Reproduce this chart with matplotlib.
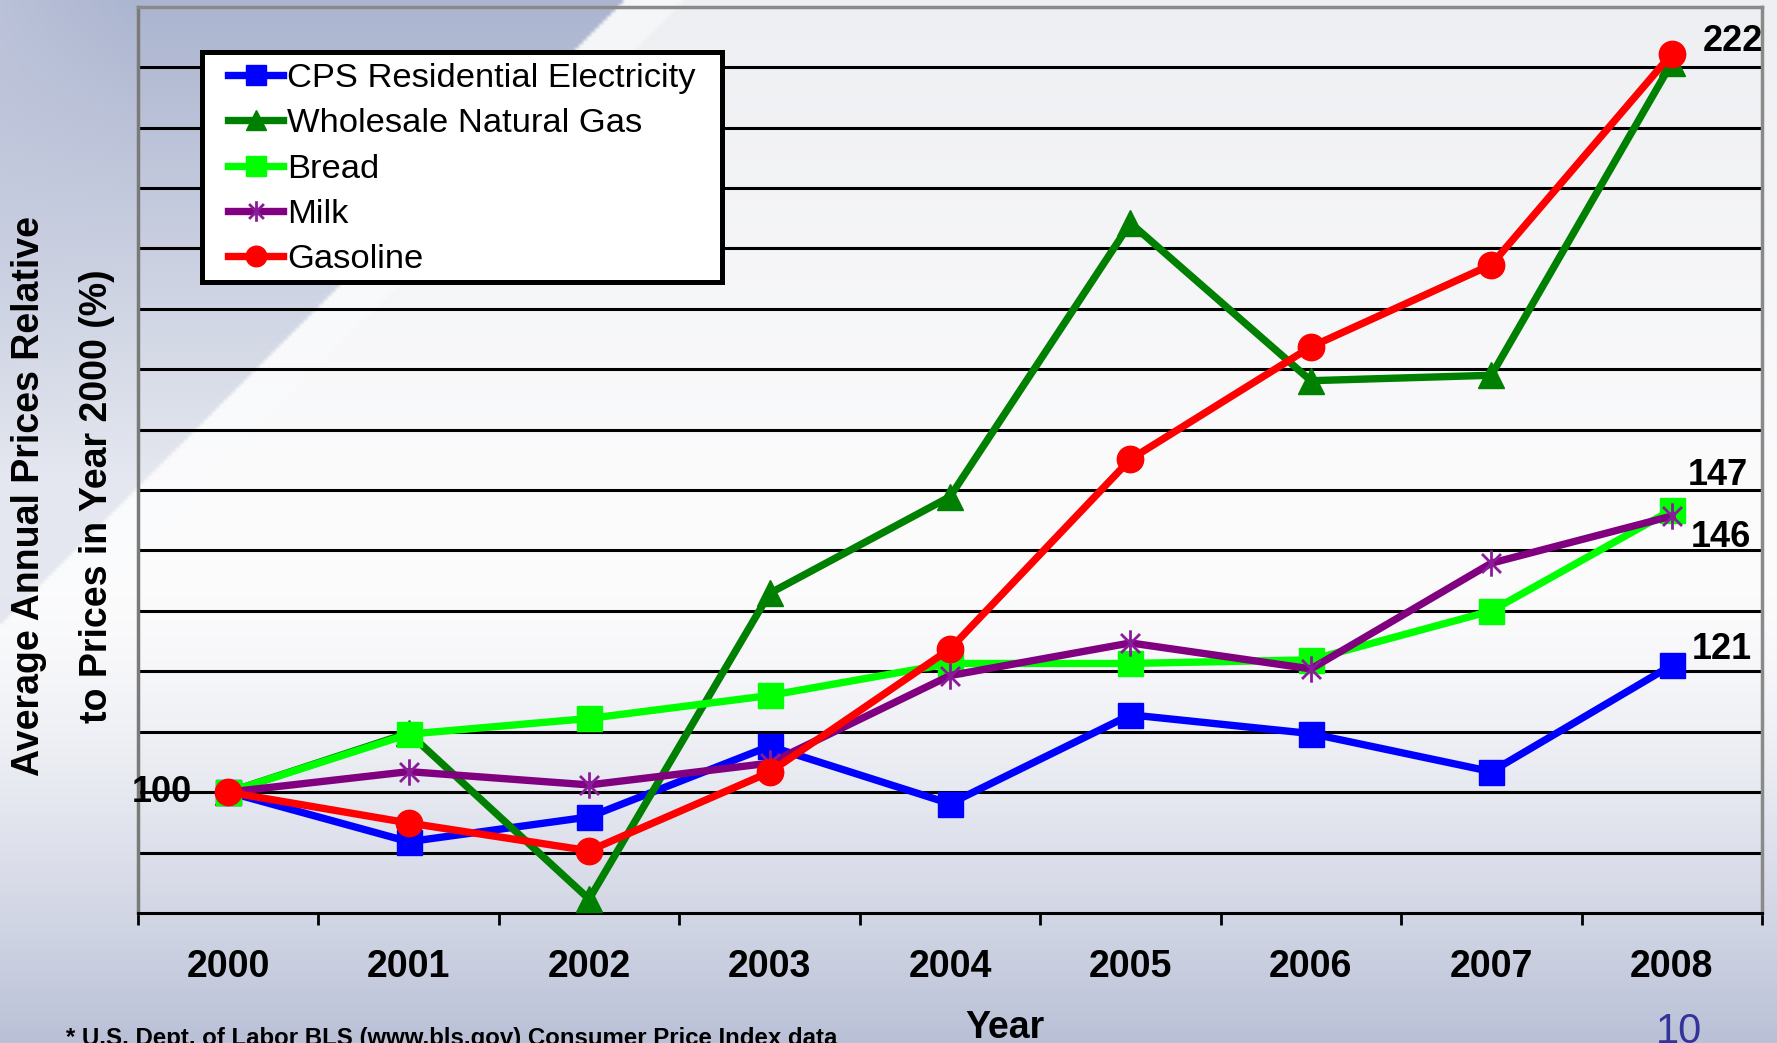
import numpy as np
import matplotlib
matplotlib.use("Agg")
import matplotlib.pyplot as plt
from matplotlib.path import Path
from matplotlib.patches import Rectangle
from matplotlib.lines import Line2D

# ---------------- data ----------------
years = ["2000", "2001", "2002", "2003", "2004", "2005", "2006", "2007", "2008"]
electricity = [100, 91.8, 95.9, 107.6, 98.1, 112.8, 109.7, 103.4, 121.0]
natural_gas = [100, 109.8, 82.3, 132.9, 148.9, 194.2, 168.1, 169.0, 220.7]
bread = [100, 109.6, 112.2, 116.0, 121.3, 121.3, 121.9, 130.0, 146.7]
milk = [100, 103.4, 101.2, 104.8, 119.3, 124.7, 120.4, 137.9, 145.7]
gasoline = [100, 94.9, 90.3, 103.3, 123.7, 155.1, 173.7, 187.3, 222.2]
series_names = ["CPS Residential Electricity", "Wholesale Natural Gas", "Bread", "Milk", "Gasoline"]
grid_values = [90, 100, 110, 120, 130, 140, 150, 160, 170, 180, 190, 200, 210, 220]

W_PX, H_PX = 1777, 1043
fig = plt.figure(figsize=(W_PX / 100, H_PX / 100), dpi=100)

# ---------------- slide background ----------------
H, W = 261, 445
X, Y = np.meshgrid(np.linspace(0, W_PX, W), np.linspace(0, H_PX, H))
img = np.zeros((H, W, 3))
img[:] = np.array([251, 251, 252])
t = np.clip(1 - Y / 480, 0, 1)[..., None]
img = img * (1 - t) + np.array([238, 239, 242]) * t
d = X + Y - 622
s = np.clip(Y / 470, 0, 1)[..., None]
tri = np.array([172, 181, 208]) * (1 - s) + np.array([228, 231, 239]) * s
lx = (np.clip((140 - X) / 140, 0, 1) * 0.5)[..., None] * (1 - s)
tri = tri * (1 - lx) + np.array([200, 206, 225]) * lx
mask = (d < 0)[..., None]
img = np.where(mask, tri, img)
band = ((d >= 0) & (d < 60))[..., None]
img = np.where(band, img * 0.4 + np.array([250, 251, 253]) * 0.6, img)
b = (np.clip((Y - 600) / 443, 0, 1) ** 1.4)[..., None]
img = img * (1 - b) + np.array([186, 193, 215]) * b
bg = fig.add_axes([0, 0, 1, 1], zorder=-5)
bg.imshow(img.astype(np.uint8), extent=[0, 1, 0, 1], aspect="auto", interpolation="bilinear")
bg.axis("off")

# ---------------- main axes ----------------
ax = fig.add_axes([138 / W_PX, 1 - 913 / H_PX, 1624 / W_PX, 906.3 / H_PX])
ax.patch.set_alpha(0)
x = np.arange(len(years))
ax.set_xlim(-0.5, len(years) - 0.5)
ax.set_ylim(80, 230)

for gv in grid_values:
    ax.axhline(gv, color="black", lw=2.2, zorder=1)

star = Path([(0, -1), (0, 1), (-0.72, -0.72), (0.72, 0.72), (-0.72, 0.72), (0.72, -0.72)],
            [Path.MOVETO, Path.LINETO] * 3)

styles = [
    dict(color="#0000ff", marker="s", ms=18, mfc="#0000ff", mec="#0000ff"),
    dict(color="#008000", marker="^", ms=19, mfc="#008000", mec="#008000"),
    dict(color="#00ff00", marker="s", ms=18, mfc="#00ff00", mec="#00ff00"),
    dict(color="#800080", marker=star, ms=19, mfc="none", mec="#8a1a9a", mew=2.0),
    dict(color="#ff0000", marker="o", ms=19, mfc="#ff0000", mec="#ff0000"),
]
all_series = [electricity, natural_gas, bread, milk, gasoline]
for i, (vals, st) in enumerate(zip(all_series, styles)):
    ax.plot(x, vals, lw=5.3, zorder=3 + i, solid_joinstyle="round", **st)

# spines and ticks
for side in ["top", "right", "left"]:
    ax.spines[side].set_color("#8a8a8a")
    ax.spines[side].set_linewidth(2.5)
ax.spines["left"].set_color("#7a7a7a")
ax.spines["bottom"].set_color("black")
ax.spines["bottom"].set_linewidth(2.2)
ax.set_yticks([])
ax.set_xticks(np.arange(-0.5, len(years), 1.0))
ax.set_xticklabels([])
ax.tick_params(axis="x", which="major", direction="out", length=8.5, width=2, color="black")
ax.set_xticks(x, minor=True)
ax.set_xticklabels(years, minor=True,
                   fontdict=dict(family=["Liberation Sans", "DejaVu Sans"], weight="bold", size=27))
ax.tick_params(axis="x", which="minor", length=0, pad=26)

ax.set_xlabel("Year", family=["Liberation Sans", "DejaVu Sans"], weight="bold", size=27)
ax.xaxis.set_label_coords(0.534, -0.107)

# y label (two lines)
ylab_kw = dict(rotation=90, ha="center", va="center", weight="bold", size=27,
               family=["Liberation Sans", "DejaVu Sans"])
fig.text(29.5 / W_PX, 1 - 496 / H_PX, "Average Annual Prices Relative", **ylab_kw)
fig.text(97.5 / W_PX, 1 - 496 / H_PX, "to Prices in Year 2000 (%)", **ylab_kw)

# value labels
lab_kw = dict(textcoords="offset points", weight="bold", size=26,
              family=["Liberation Sans", "DejaVu Sans"], zorder=10)
ax.annotate("100", xy=(x[0], electricity[0]), xytext=(-26, 0), ha="right", va="center", **lab_kw)
ax.annotate("222", xy=(x[-1], gasoline[-1]), xytext=(22, 9), ha="left", va="center", **lab_kw)
ax.annotate("147", xy=(x[-1], bread[-1]), xytext=(11.5, 24.5), ha="left", va="center", **lab_kw)
ax.annotate("146", xy=(x[-1], milk[-1]), xytext=(13.7, -15.8), ha="left", va="center", **lab_kw)
ax.annotate("121", xy=(x[-1], electricity[-1]), xytext=(14.4, 11.5), ha="left", va="center", **lab_kw)

# legend with a manual box
x0 = (201.7 - 138) / 1624
x1 = (722 - 138) / 1624
y1 = (913 - 51.7) / 906.3
y0 = (913 - 281.7) / 906.3
ax.add_patch(Rectangle((x0, y0), x1 - x0, y1 - y0, transform=ax.transAxes,
                       facecolor="white", edgecolor="black", lw=3.6, zorder=20))
handles = [Line2D([], [], lw=5.3, **st) for st in styles]
leg = ax.legend(handles, series_names, loc="upper left",
                bbox_to_anchor=((228 - 138) / 1624, (913 - 63) / 906.3),
                frameon=False, borderpad=0, borderaxespad=0, labelspacing=0.41,
                handlelength=1.6, handletextpad=0.12, markerscale=0.78,
                prop=dict(family=["Liberation Sans", "DejaVu Sans"], size=24.8))
leg.set_zorder(21)

# footnote and slide number
fig.text(66 / W_PX, 1 - 1027 / H_PX, "* U.S. Dept. of Labor BLS (www.bls.gov) Consumer Price Index data",
         ha="left", va="top", weight="bold", size=17.3,
         family=["Liberation Sans", "DejaVu Sans"])
fig.text(1679 / W_PX, 1 - 1012 / H_PX, "10", ha="center", va="top", size=30,
         color="#33339a", family=["Liberation Sans", "DejaVu Sans"])

fig.savefig("out.png", dpi=100)
